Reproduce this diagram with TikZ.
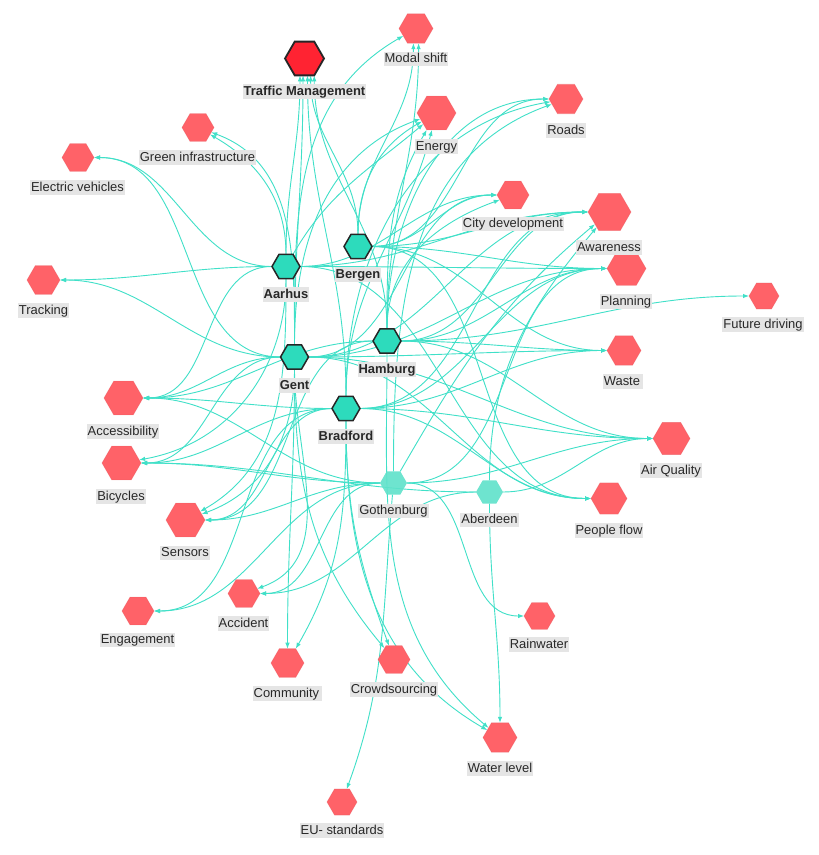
\documentclass[tikz,border=0pt]{standalone}
\usepackage{fontspec}
\setmainfont{Liberation Sans}
\usetikzlibrary{shapes.geometric,arrows.meta}
\definecolor{redn}{RGB}{255,98,104}
\definecolor{redtm}{RGB}{255,35,50}
\definecolor{teal1}{RGB}{45,219,188}
\definecolor{teal2}{RGB}{95,226,202}
\definecolor{edgec}{RGB}{64,224,200}
\definecolor{labbg}{RGB}{229,229,229}
\definecolor{labtxt}{RGB}{40,40,40}
\pgfdeclarelayer{bg}
\pgfsetlayers{bg,main}
\tikzset{
  hexbase/.style={regular polygon, regular polygon sides=6, inner sep=0pt, outer sep=0pt},
  rnode/.style={hexbase, fill=redn, draw=redn!90!black, draw opacity=0.4, line width=0.6bp},
  tmnode/.style={hexbase, fill=redtm, draw=black!85, line width=1.8bp},
  cnode/.style={hexbase, fill=teal1, draw=black!85, line width=1.5bp, minimum size=28bp},
  lnode/.style={hexbase, fill=teal2, fill opacity=0.9, minimum size=27bp},
  lab/.style={fill=labbg, text=labtxt, font=\fontsize{13}{15}\selectfont, inner xsep=1bp, inner ysep=0.6bp, text height=10bp, text depth=3bp},
  blab/.style={lab, font=\fontsize{13}{15}\selectfont\bfseries},
  ed/.style={draw=edgec, line width=0.9bp, -{Latex[length=6bp,width=4.5bp]}},
  goR/.style={out=0,in=180},
  goL/.style={out=180,in=0},
  goU/.style={out=90,in=-90},
  goD/.style={out=-90,in=90}
}
\begin{document}
\begin{tikzpicture}[x=1bp,y=-1bp]
\begin{pgfonlayer}{bg}
\fill[white] (0,0) rectangle (819,855);
\end{pgfonlayer}
\useasboundingbox (0,0) rectangle (819,855);
% topic nodes
\node[tmnode, minimum size=39bp] (TM) at (304.5,58.5) {};
\node[rnode, minimum size=34bp] (MS) at (416,28.5) {};
\node[rnode, minimum size=39bp] (EN) at (436.5,113) {};
\node[rnode, minimum size=34bp] (RO) at (566,99) {};
\node[rnode, minimum size=32bp] (GI) at (198,127.5) {};
\node[rnode, minimum size=32bp] (EV) at (78,157.5) {};
\node[rnode, minimum size=32bp] (CD) at (513,195) {};
\node[rnode, minimum size=43bp] (AW) at (609.5,212) {};
\node[rnode, minimum size=39bp] (PL) at (626.5,268.5) {};
\node[rnode, minimum size=30bp] (FD) at (764,296) {};
\node[rnode, minimum size=33bp] (TR) at (43.5,280) {};
\node[rnode, minimum size=34bp] (WA) at (624,350.5) {};
\node[rnode, minimum size=37bp] (AQ) at (671.5,438.5) {};
\node[rnode, minimum size=36bp] (PF) at (609,498.5) {};
\node[rnode, minimum size=39bp] (AC) at (123.5,398) {};
\node[rnode, minimum size=39bp] (BI) at (121.5,463) {};
\node[rnode, minimum size=39bp] (SE) at (185.5,520) {};
\node[rnode, minimum size=32bp] (EG) at (138,611) {};
\node[rnode, minimum size=32bp] (AD) at (244,593.5) {};
\node[rnode, minimum size=31bp] (RA) at (539.5,616) {};
\node[rnode, minimum size=33bp] (CO) at (287.5,663) {};
\node[rnode, minimum size=32bp] (CR) at (394,659.5) {};
\node[rnode, minimum size=34bp] (WL) at (500,737.5) {};
\node[rnode, minimum size=30bp] (EU) at (342,802) {};
% city nodes
\node[cnode] (AA) at (286,266.5) {};
\node[cnode] (BE) at (358,246.5) {};
\node[cnode] (HA) at (387,341) {};
\node[cnode] (GE) at (294.5,357) {};
\node[cnode] (BR) at (346,408.5) {};
\node[lnode] (GO) at (393.5,483) {};
\node[lnode] (AB) at (489.5,492) {};
% labels
\node[blab] (lTM) at (304.5,91.5) {Traffic Management};
\node[lab] (lMS) at (416,59) {Modal shift};
\node[lab] (lEN) at (436.5,146.5) {Energy};
\node[lab] (lRO) at (566,130.5) {Roads};
\node[lab] (lGI) at (197.5,157.5) {Green infrastructure};
\node[lab] (lEV) at (77.5,187.5) {Electric vehicles};
\node[lab] (lCD) at (513,224) {City development};
\node[lab] (lAW) at (609,247.5) {Awareness};
\node[lab] (lPL) at (626,301.5) {Planning};
\node[lab] (lFD) at (763,324.5) {Future driving};
\node[lab] (lTR) at (43.5,310.5) {Tracking};
\node[lab] (lWA) at (623,381.5) {Waste\,};
\node[lab] (lAQ) at (671,470.5) {Air Quality};
\node[lab] (lPF) at (609,530.5) {People flow};
\node[lab] (lAC) at (123,431.5) {Accessibility};
\node[lab] (lBI) at (121,496.5) {Bicycles};
\node[lab] (lSE) at (185,553) {Sensors};
\node[lab] (lEG) at (137.5,640) {Engagement};
\node[lab] (lAD) at (243.5,623.5) {Accident};
\node[lab] (lRA) at (539,644.5) {Rainwater};
\node[lab] (lCO) at (287.5,693.5) {Community\,};
\node[lab] (lCR) at (394,689.5) {Crowdsourcing};
\node[lab] (lWL) at (500,768.5) {Water level};
\node[lab] (lEU) at (342,830.5) {EU- standards};
\node[blab] (lAA) at (286,294.5) {Aarhus};
\node[blab] (lBE) at (358,274.5) {Bergen};
\node[blab] (lHA) at (387,369.5) {Hamburg};
\node[blab] (lGE) at (294.5,385.5) {Gent};
\node[blab] (lBR) at (346,436.5) {Bradford};
\node[lab] (lGO) at (393.5,511) {Gothenburg};
\node[lab] (lAB) at (489.5,520) {Aberdeen};
% edges
\begin{pgfonlayer}{bg}
% Traffic Management
\draw[ed] (AA) to[out=90,in=-90] (TM.-105);
\draw[ed] (GE) to[out=90,in=-90] (TM.-95);
\draw[ed] (BE) to[out=90,in=-90] (TM.-70);
\draw[ed] (HA) to[out=90,in=-90] (TM.-60);
\draw[ed] (BR) to[out=90,in=-90] (TM.-80);
% Modal shift
\draw[ed] (BE) to[out=90,in=-90] (MS.-100);
\draw[ed] (HA) to[out=90,in=-90] (MS.-80);
\draw[ed] (GE) to[out=90,in=-150] (MS);
% Energy
\draw[ed] (BE) to[out=90,in=-150] (EN);
\draw[ed] (HA) to[out=90,in=-120] (EN);
\draw[ed] (GE) to[out=90,in=-160] (EN);
\draw[ed] (BR) to[out=90,in=-105] (EN);
\draw[ed] (AA) to[out=60,in=-140] (EN);
% Roads
\draw[ed] (BE) to[goR] (RO);
\draw[ed] (HA) to[out=90,in=180] (RO);
\draw[ed] (BR) to[out=90,in=-170] (RO);
\draw[ed] (GO) to[out=90,in=-160] (RO);
% Green infrastructure
\draw[ed] (AA) to[out=90,in=-30] (GI);
\draw[ed] (GE) to[out=90,in=-20] (GI);
% Electric vehicles
\draw[ed] (AA) to[goL] (EV);
\draw[ed] (GE) to[goL] (EV);
% Tracking
\draw[ed] (AA) to[goL] (TR);
\draw[ed] (GE) to[goL] (TR);
% City development
\draw[ed] (AA) to[goR] (CD);
\draw[ed] (BE) to[goR] (CD);
\draw[ed] (GE) to[goR] (CD);
\draw[ed] (HA) to[out=90,in=-160] (CD);
% Awareness
\draw[ed] (AA) to[goR] (AW);
\draw[ed] (BE) to[goR] (AW);
\draw[ed] (HA) to[goR] (AW);
\draw[ed] (GE) to[goR] (AW);
\draw[ed] (BR) to[goR] (AW);
\draw[ed] (GO) to[out=60,in=-140] (AW);
\draw[ed] (AB) to[out=90,in=-130] (AW);
% Planning
\draw[ed] (AA) to[goR] (PL);
\draw[ed] (BE) to[goR] (PL);
\draw[ed] (HA) to[goR] (PL);
\draw[ed] (GE) to[goR] (PL);
\draw[ed] (BR) to[goR] (PL);
\draw[ed] (GO) to[goR] (PL);
% Future driving
\draw[ed] (HA) to[goR] (FD);
% Waste
\draw[ed] (BE) to[goR] (WA);
\draw[ed] (GE) to[goR] (WA);
\draw[ed] (HA) to[goR] (WA);
\draw[ed] (BR) to[goR] (WA);
% Air Quality
\draw[ed] (GE) to[goR] (AQ);
\draw[ed] (HA) to[goR] (AQ);
\draw[ed] (BR) to[goR] (AQ);
\draw[ed] (GO) to[goR] (AQ);
\draw[ed] (AB) to[goR] (AQ);
% People flow
\draw[ed] (AA) to[goR] (PF);
\draw[ed] (BE) to[goR] (PF);
\draw[ed] (GE) to[goR] (PF);
\draw[ed] (BR) to[goR] (PF);
% Accessibility
\draw[ed] (AA) to[goL] (AC);
\draw[ed] (GE) to[goL] (AC);
\draw[ed] (BR) to[goL] (AC);
\draw[ed] (HA) to[goL] (AC);
\draw[ed] (GO) to[goL] (AC);
% Bicycles
\draw[ed] (AA) to[out=-90,in=10] (BI);
\draw[ed] (GE) to[goL] (BI);
\draw[ed] (BR) to[goL] (BI);
\draw[ed] (GO) to[goL] (BI);
\draw[ed] (AB) to[goL] (BI);
% Sensors
\draw[ed] (AA) to[out=-90,in=30] (SE);
\draw[ed] (GE) to[out=-90,in=20] (SE);
\draw[ed] (HA) to[goL] (SE);
\draw[ed] (BR) to[goL] (SE);
\draw[ed] (GO) to[goL] (SE);
% Engagement
\draw[ed] (BR) to[goL] (EG);
\draw[ed] (GO) to[goL] (EG);
% Accident
\draw[ed] (GO) to[goL] (AD);
\draw[ed] (AB) to[goL] (AD);
\draw[ed] (GE) to[out=-90,in=20] (AD);
% Community
\draw[ed] (GE) to[goD] (CO);
\draw[ed] (BR) to[out=-90,in=60] (CO);
% Crowdsourcing
\draw[ed] (GE) to[out=-90,in=130] (CR);
\draw[ed] (BR) to[out=-90,in=110] (CR);
% Rainwater
\draw[ed] (GO) to[goR] (RA);
% Water level
\draw[ed] (AB) to[goD] (WL);
\draw[ed] (BR) to[out=-90,in=150] (WL);
\draw[ed] (HA) to[out=-90,in=140] (WL);
% EU- standards
\draw[ed] (GO) to[out=-95,in=70] (EU);
\end{pgfonlayer}
\end{tikzpicture}
\end{document}
